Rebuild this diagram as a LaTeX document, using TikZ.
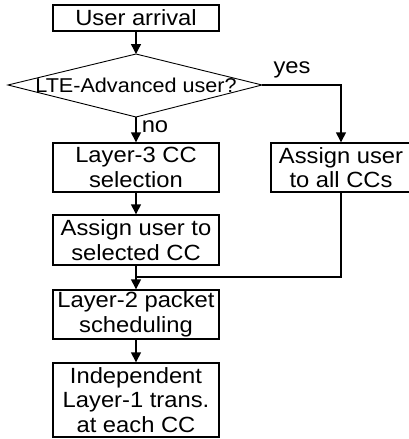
\documentclass[tikz,border=0pt]{standalone}
\usepackage{fontspec}
\setmainfont[FakeStretch=1.08]{Liberation Sans}
\usetikzlibrary{shapes.geometric,arrows.meta}
\begin{document}
\begin{tikzpicture}[x=1pt,y=-1pt,
  box/.style={draw,line width=1.4pt,minimum height=#1,align=center,font=\fontsize{22}{24.5}\selectfont,inner sep=0pt},
  box/.default=26pt,
  arr/.style={line width=1.4pt,-{Triangle[length=10pt,width=10pt]}},
  lab/.style={font=\fontsize{22}{24.5}\selectfont,inner sep=0pt}]
\useasboundingbox (0,0) rectangle (408,439);
\node[box=26pt,minimum width=166pt] (ua) at (136,18) {User arrival};
\draw[line width=0.9pt] (8,85) -- (136,54) -- (262,85) -- (136,117) -- cycle;
\node[lab,font=\fontsize{20}{24}\selectfont] (dq) at (136,85) {LTE-Advanced user?};
\coordinate (dt) at (136,54);
\coordinate (db) at (136,117);
\coordinate (dr) at (262,85);
\node[box=49pt,minimum width=166pt] (l3) at (136,167.5) {Layer-3 CC\\selection};
\node[box=49pt,minimum width=140pt] (all) at (341,167.5) {Assign user\\to all CCs};
\node[box=50pt,minimum width=166pt] (sel) at (136,240) {Assign user to\\selected CC};
\node[box=49pt,minimum width=166pt] (l2) at (136,314.5) {Layer-2 packet\\scheduling};
\node[box=74pt,minimum width=166pt] (l1) at (136,400) {Independent\\Layer-1 trans.\\at each CC};
\node[lab] (yes) at (292,70) {yes};
\node[lab] (no) at (155,127) {no};
\coordinate (j) at (136,277);
\draw[arr] (ua) -- (dt);
\draw[arr] (db) -- (l3);
\draw[arr] (dr) -| (all);
\draw[arr] (l3) -- (sel);
\draw[arr] (sel) -- (l2);
\draw[line width=1.4pt] (all.south) |- (j);
\draw[arr] (l2) -- (l1);
\end{tikzpicture}
\end{document}
